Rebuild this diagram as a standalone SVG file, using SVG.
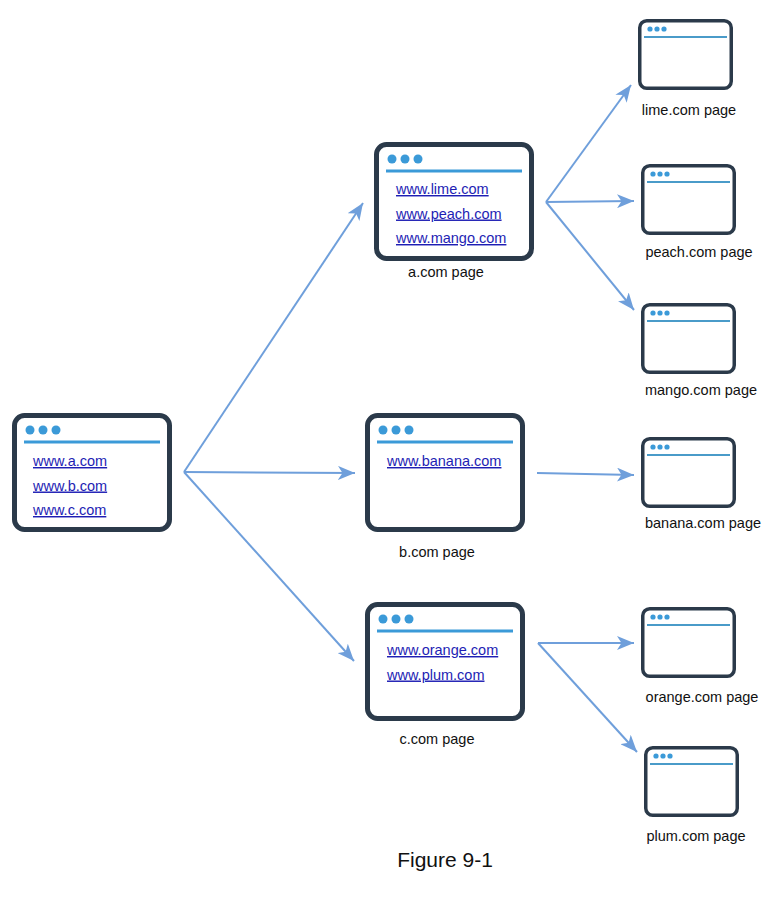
<svg xmlns="http://www.w3.org/2000/svg" width="778" height="904" viewBox="0 0 778 904">
<defs>
<style>
.frame{fill:#fff;stroke:#2b3a4a;stroke-width:5}
.sframe{fill:#fff;stroke:#2b3a4a;stroke-width:3.5}
.dot{fill:#3b9ad8}
.bar{stroke:#3b9ad8;stroke-width:3}
.sbar{stroke:#4a9bc9;stroke-width:2}
.link{font-family:"Liberation Sans",Arial,sans-serif;font-size:14.5px;fill:#1e1eb4;text-decoration:underline}
.lbl{font-family:"Liberation Sans",Arial,sans-serif;font-size:14.5px;fill:#111;text-anchor:middle}
.cap{font-family:"Liberation Sans",Arial,sans-serif;font-size:21px;fill:#111;text-anchor:middle}
.edge{stroke:#6f9fdb;stroke-width:2;fill:none;marker-end:url(#ah)}
</style>
<marker id="ah" markerUnits="userSpaceOnUse" markerWidth="18" markerHeight="14" refX="17" refY="7" orient="auto">
<path d="M0,0 L17,7 L0,14 L4.5,7 Z" fill="#6f9fdb"/>
</marker>
<g id="bigframe">
<rect class="frame" x="2.5" y="2.5" width="155" height="114" rx="10"/>
<circle class="dot" cx="18" cy="17" r="4.5"/>
<circle class="dot" cx="31" cy="17" r="4.5"/>
<circle class="dot" cx="44" cy="17" r="4.5"/>
<line class="bar" x1="12" y1="29" x2="148" y2="29"/>
</g>
<g id="smallframe">
<rect class="sframe" x="1.75" y="1.75" width="91.5" height="67.5" rx="7"/>
<circle class="dot" cx="12" cy="10" r="2.6"/>
<circle class="dot" cx="19" cy="10" r="2.6"/>
<circle class="dot" cx="26" cy="10" r="2.6"/>
<line class="sbar" x1="6" y1="18" x2="89" y2="18"/>
</g>
</defs>
<rect width="778" height="904" fill="#fff"/>

<g id="connectors">
<line class="edge" x1="184" y1="472" x2="363" y2="203"/>
<line class="edge" x1="184" y1="472" x2="355" y2="473"/>
<line class="edge" x1="184" y1="472" x2="354" y2="661"/>
<line class="edge" x1="546" y1="202" x2="631" y2="85"/>
<line class="edge" x1="546" y1="202" x2="634" y2="201"/>
<line class="edge" x1="546" y1="202" x2="634" y2="310"/>
<line class="edge" x1="537" y1="473" x2="634" y2="475"/>
<line class="edge" x1="538" y1="643" x2="634" y2="643"/>
<line class="edge" x1="538" y1="643" x2="637" y2="752"/>
</g>

<g id="root" transform="translate(12,413)">
<use href="#bigframe"/>
<text class="link" x="21" y="53">www.a.com</text>
<text class="link" x="21" y="77.5">www.b.com</text>
<text class="link" x="21" y="102">www.c.com</text>
</g>

<g id="a-page">
<g transform="translate(374,142)">
<use href="#bigframe"/>
<text class="link" x="22" y="52">www.lime.com</text>
<text class="link" x="22" y="76.5">www.peach.com</text>
<text class="link" x="22" y="101">www.mango.com</text>
</g>
<text class="lbl" x="446" y="277">a.com page</text>
</g>

<g id="b-page">
<g transform="translate(365,413)">
<use href="#bigframe"/>
<text class="link" x="22" y="53">www.banana.com</text>
</g>
<text class="lbl" x="437" y="557">b.com page</text>
</g>

<g id="c-page">
<g transform="translate(365,602)">
<use href="#bigframe"/>
<text class="link" x="22" y="53">www.orange.com</text>
<text class="link" x="22" y="77.5">www.plum.com</text>
</g>
<text class="lbl" x="437" y="744">c.com page</text>
</g>

<g id="lime-page">
<use href="#smallframe" transform="translate(638,19)"/>
<text class="lbl" x="689" y="115">lime.com page</text>
</g>
<g id="peach-page">
<use href="#smallframe" transform="translate(641,164)"/>
<text class="lbl" x="699" y="257">peach.com page</text>
</g>
<g id="mango-page">
<use href="#smallframe" transform="translate(641,303)"/>
<text class="lbl" x="701" y="395">mango.com page</text>
</g>
<g id="banana-page">
<use href="#smallframe" transform="translate(641,437)"/>
<text class="lbl" x="703" y="528">banana.com page</text>
</g>
<g id="orange-page">
<use href="#smallframe" transform="translate(641,607)"/>
<text class="lbl" x="702" y="702">orange.com page</text>
</g>
<g id="plum-page">
<use href="#smallframe" transform="translate(644,746)"/>
<text class="lbl" x="696" y="841">plum.com page</text>
</g>

<text class="cap" x="445" y="867">Figure 9-1</text>
</svg>
